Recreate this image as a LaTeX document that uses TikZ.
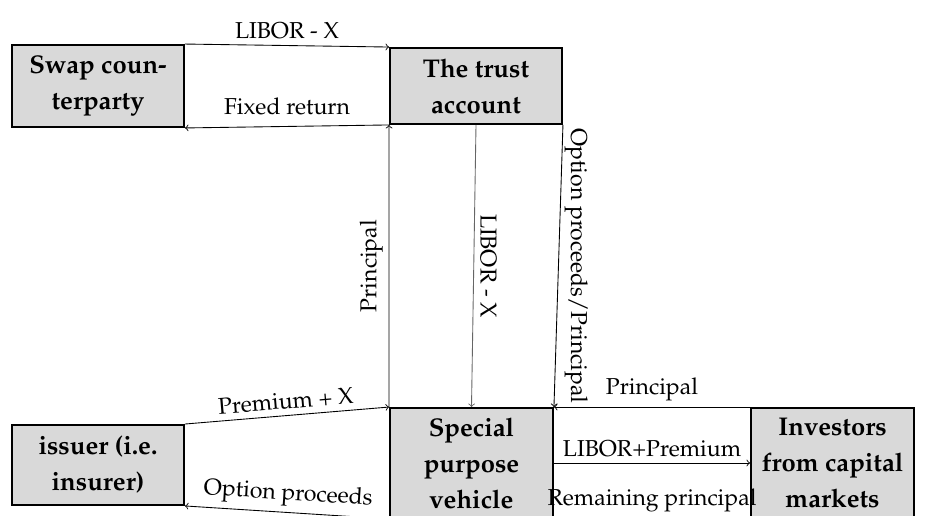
\documentclass[tikz,border=0pt]{standalone}
\usepackage[T1]{fontenc}
\usepackage{mathpazo}
\usepackage{tikz}

\begin{document}
\begin{tikzpicture}[x=0.02cm, y=-0.02cm]
        % Define styles
        \tikzset{
            party/.style={rectangle, draw, line width=1.1pt, fill=gray!30, align=center, font=\fontsize{14.6}{20.5}\selectfont\bfseries, inner sep=2pt},
            arrow/.style={->, line width=0.5pt},
            flow/.style={font=\fontsize{13.1}{15.7}\selectfont}
        }
        \useasboundingbox (0,0) rectangle (927,516);

        % Nodes
        \node[party, minimum width=3.44cm, minimum height=1.64cm] (swap) at (98,86) {Swap coun-\\terparty};
        \node[party, minimum width=3.44cm, minimum height=1.52cm] (trust) at (476,86) {The trust\\account};
        \node[party, minimum width=3.44cm, minimum height=1.6cm] (issuer) at (98,465) {issuer (i.e.\\insurer)};
        \node[party, minimum width=3.26cm, minimum height=2.2cm] (spv) at (471.5,463) {Special\\purpose\\vehicle};
        \node[party, minimum width=3.26cm, minimum height=2.2cm] (investors) at (832.5,463) {Investors\\from capital\\markets};

        % Arrows
        \draw[arrow] (swap.north east) -- (trust.north west) node[midway, above, flow] {LIBOR - X};
        \draw[arrow] (trust.south west) -- (swap.south east) node[midway, above=3pt, flow] {Fixed return};
        \draw[arrow] (spv.north west) -- (trust.south west) node[midway, anchor=south, rotate=90, flow] {Principal};
        \draw[arrow, black!60] (trust.south) -- (spv.north) node[midway, anchor=south, rotate=-90, flow, black] {LIBOR - X};
        \draw[arrow] (trust.south east) -- (spv.north east) node[midway, anchor=south, rotate=-90, flow] {Option proceeds/Principal};
        \draw[arrow] (investors.north west) -- (spv.north east) node[midway, above, flow] {Principal};
        \draw[arrow] (spv.east) -- (investors.west) node[midway, above, flow] {LIBOR+Premium}
            node[midway, below=11pt, flow] {Remaining principal};
        \draw[arrow] (issuer.north east) -- (spv.north west) node[midway, above, sloped, flow] {Premium + X};
        \draw[arrow] (spv.south west) -- (issuer.south east) node[midway, above, sloped, flow] {Option proceeds};
\end{tikzpicture}
\end{document}
